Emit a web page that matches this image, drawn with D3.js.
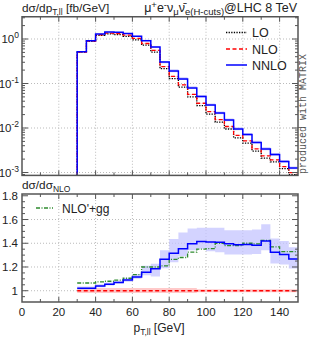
<!DOCTYPE html>
<html><head><meta charset="utf-8">
<script src="https://cdn.jsdelivr.net/npm/d3@7"></script>
<style>body{margin:0;background:#fff;} svg{display:block;font-family:"Liberation Sans",Arial,sans-serif;}</style>
</head><body><svg id="c" width="311" height="340"></svg>
<script>
// ---- data ----
const binEdges = [30,35,40,45,50,55,60,65,70,75,80,85,90,95,100,105,110,115,120,125,130,135,140,145,150];
const nnlo = [0.518,0.916,1.295,1.436,1.414,1.329,1.150,0.916,0.661,0.304,0.191,0.126,0.0793,0.0510,0.0329,0.0217,0.0151,0.0095,0.00715,0.00472,0.00337,0.00254,0.00177,0.00126];
const nlo  = [0.508,0.898,1.245,1.361,1.321,1.219,1.031,0.793,0.558,0.240,0.145,0.0931,0.0568,0.0360,0.0233,0.0154,0.0108,0.00685,0.00514,0.00341,0.00237,0.00192,0.00136,0.000994];
const lo   = [0.508,0.889,1.208,1.307,1.255,1.146,0.959,0.730,0.508,0.216,0.129,0.0829,0.0500,0.0317,0.0205,0.01355,0.0095,0.00603,0.00457,0.00303,0.00211,0.00173,0.00122,0.000895];
const ratioNNLO   = [1.02,1.02,1.04,1.055,1.07,1.09,1.115,1.155,1.185,1.265,1.315,1.353,1.395,1.415,1.41,1.408,1.395,1.387,1.39,1.383,1.42,1.325,1.306,1.267];
const ratioNNLOlo = [1.01,1.01,1.03,1.045,1.06,1.075,1.10,1.13,1.12,1.19,1.24,1.29,1.34,1.353,1.333,1.325,1.306,1.306,1.306,1.31,1.34,1.23,1.22,1.187];
const ratioNNLOhi = [1.035,1.035,1.055,1.07,1.085,1.11,1.14,1.21,1.228,1.34,1.436,1.49,1.525,1.53,1.53,1.53,1.51,1.51,1.51,1.515,1.56,1.44,1.418,1.367];
const ratioNLOlo  = [0.98,0.98,0.98,0.98,0.98,0.98,0.98,0.98,0.98,0.98,0.98,0.98,0.98,0.988,0.988,0.988,0.988,0.988,0.988,0.988,0.988,0.988,0.988,0.988];
const ratioNLOhi  = [1.022,1.022,1.022,1.022,1.022,1.022,1.022,1.022,1.022,1.022,1.022,1.022,1.022,1.013,1.013,1.013,1.013,1.013,1.013,1.013,1.013,1.013,1.013,1.013];
const ratioGG = [1.065,1.065,1.075,1.08,1.09,1.105,1.135,1.2,1.2,1.21,1.265,1.28,1.325,1.35,1.355,1.40,1.38,1.38,1.40,1.395,1.425,1.37,1.33,1.33];
const xTickLabels = [0,20,40,60,80,100,120,140];
const upperTickExps = [0,-1,-2,-3];
const lowerTickLabels = [1,1.2,1.4,1.6,1.8];

// ---- layout ----
const L = 22, R = 298;
const uT = 16.75, uB = 175.4, lT = 194, lB = 302;
const svg = d3.select("#c");
const x = d3.scaleLinear([0,150],[L,R]);
const yU = d3.scaleLog([Math.pow(10,-3.065), Math.pow(10,0.5)],[uB,uT]);
const yL = d3.scaleLinear([0.905,1.815],[lB,lT]);

const defs = svg.append("defs");
defs.append("clipPath").attr("id","cu").append("rect").attr("x",L).attr("y",uT).attr("width",R-L).attr("height",uB-uT);
defs.append("clipPath").attr("id","cl").append("rect").attr("x",L).attr("y",lT).attr("width",R-L).attr("height",lB-lT);

const frameCol = "#555";
const gridCol = "#bbb";

function pts(vals){ return binEdges.map((e,i)=>[e, vals[Math.min(i, vals.length-1)]]); }
function stepLine(ys){ return d3.line().x(d=>x(d[0])).y(d=>ys(d[1])).curve(d3.curveStepAfter); }
function stepArea(ys, lowV, hiV){
  const d = binEdges.map((e,i)=>({x:e, lo:lowV[Math.min(i,lowV.length-1)], hi:hiV[Math.min(i,hiV.length-1)]}));
  return {data:d, gen:d3.area().x(p=>x(p.x)).y0(p=>ys(p.lo)).y1(p=>ys(p.hi)).curve(d3.curveStepAfter)};
}

// ---- grids ----
function grid(g, ys, yvals, top, bot){
  xTickLabels.filter(v=>v>0).forEach(v=>{
    g.append("line").attr("x1",x(v)).attr("x2",x(v)).attr("y1",top).attr("y2",bot)
      .attr("stroke",gridCol).attr("stroke-width",1).attr("stroke-dasharray","1,2");
  });
  yvals.forEach(v=>{
    g.append("line").attr("x1",L).attr("x2",R).attr("y1",ys(v)).attr("y2",ys(v))
      .attr("stroke",gridCol).attr("stroke-width",1).attr("stroke-dasharray","1,2");
  });
}
grid(svg.append("g"), yU, upperTickExps.map(e=>Math.pow(10,e)), uT, uB);
grid(svg.append("g"), yL, [1,1.2,1.4,1.6], lT, lB);

// ---- upper panel ----
const gu = svg.append("g").attr("clip-path","url(#cu)");
const nloBandU = stepArea(yU, nlo.map((v,i)=>v*ratioNLOlo[i]), nlo.map((v,i)=>v*ratioNLOhi[i]));
gu.append("path").datum(nloBandU.data).attr("d",nloBandU.gen).attr("fill","#ffbbbb").attr("opacity",0.8);
const nnloBandU = stepArea(yU, nnlo.map((v,i)=>v*ratioNNLOlo[i]/ratioNNLO[i]), nnlo.map((v,i)=>v*ratioNNLOhi[i]/ratioNNLO[i]));
gu.append("path").datum(nnloBandU.data).attr("d",nnloBandU.gen).attr("fill","#c4c4ff").attr("opacity",0.85);
const yMinU = yU.domain()[0];
gu.append("path").datum([[30,yMinU]].concat(pts(lo))).attr("d",stepLine(yU)).attr("fill","none")
  .attr("stroke","#000").attr("stroke-width",1.3).attr("stroke-dasharray","1.3,1.3");
gu.append("path").datum([[30,yMinU]].concat(pts(nlo))).attr("d",stepLine(yU)).attr("fill","none")
  .attr("stroke","#ff0000").attr("stroke-width",1.3).attr("stroke-dasharray","4,2.5");
gu.append("path").datum([[30,yMinU]].concat(pts(nnlo))).attr("d",stepLine(yU)).attr("fill","none")
  .attr("stroke","#0000ff").attr("stroke-width",1.5);

// ---- lower panel ----
const gl = svg.append("g").attr("clip-path","url(#cl)");
const nloBandL = stepArea(yL, ratioNLOlo, ratioNLOhi);
gl.append("path").datum(nloBandL.data).attr("d",nloBandL.gen).attr("fill","#ffbbbb").attr("opacity",0.8);
const nnloBandL = stepArea(yL, ratioNNLOlo, ratioNNLOhi);
gl.append("path").datum(nnloBandL.data).attr("d",nnloBandL.gen).attr("fill","#c4c4ff").attr("opacity",0.75);
gl.append("path").datum(pts(binEdges.slice(0,-1).map(()=>1))).attr("d",stepLine(yL)).attr("fill","none")
  .attr("stroke","#ff0000").attr("stroke-width",1.3).attr("stroke-dasharray","4,2.5");
gl.append("path").datum(pts(ratioGG)).attr("d",stepLine(yL)).attr("fill","none")
  .attr("stroke","#2e8b2e").attr("stroke-width",1.3).attr("stroke-dasharray","4,1.5,1,1.5");
gl.append("path").datum(pts(ratioNNLO)).attr("d",stepLine(yL)).attr("fill","none")
  .attr("stroke","#0000ff").attr("stroke-width",1.5);

// ---- frames & ticks ----
function frame(top, bot){
  svg.append("rect").attr("x",L).attr("y",top).attr("width",R-L).attr("height",bot-top)
    .attr("fill","none").attr("stroke",frameCol).attr("stroke-width",1.5);
}
frame(uT,uB); frame(lT,lB);
const tg = svg.append("g").attr("stroke",frameCol).attr("stroke-width",1);
function xTicksPanel(top, bot){
  d3.range(10,150,10).forEach(v=>{
    const len = (v%20===0)?5:3;
    tg.append("line").attr("x1",x(v)).attr("x2",x(v)).attr("y1",bot).attr("y2",bot-len);
    tg.append("line").attr("x1",x(v)).attr("x2",x(v)).attr("y1",top).attr("y2",top+len);
  });
}
xTicksPanel(uT,uB); xTicksPanel(lT,lB);
function yTick(ys, v, len){
  const yy = ys(v);
  tg.append("line").attr("x1",L).attr("x2",L+len).attr("y1",yy).attr("y2",yy);
  tg.append("line").attr("x1",R).attr("x2",R-len).attr("y1",yy).attr("y2",yy);
}
upperTickExps.forEach(e=>yTick(yU, Math.pow(10,e), 6));
[-4,-3,-2,-1,0].forEach(e=>{ for(let k=2;k<=9;k++){ const v=k*Math.pow(10,e); if(v>yU.domain()[0] && v<yU.domain()[1]) yTick(yU,v,3);} });
lowerTickLabels.forEach(v=>yTick(yL,v,6));
d3.range(0.95,1.81,0.05).forEach(v=>{ if(Math.abs(v*5-Math.round(v*5))>0.01) yTick(yL,v,3); });

// ---- labels ----
const fs = 11.5;
xTickLabels.forEach(v=>{
  svg.append("text").attr("x",x(v)).attr("y",315.5).attr("text-anchor","middle").attr("font-size",fs).attr("fill","#222").text(v);
});
upperTickExps.forEach(e=>{
  const t = svg.append("text").attr("x",19).attr("y",yU(Math.pow(10,e))+4).attr("text-anchor","end").attr("font-size",fs).attr("fill","#222");
  t.append("tspan").text("10");
  t.append("tspan").attr("font-size",8.5).attr("dy",-5).text(String(e));
});
lowerTickLabels.forEach(v=>{
  svg.append("text").attr("x",18).attr("y",yL(v)+4).attr("text-anchor","end").attr("font-size",fs).attr("fill","#222").text(v===1?"1":v.toFixed(1));
});
// x title
{
  const t = svg.append("text").attr("x",159).attr("y",332).attr("text-anchor","middle").attr("font-size",12).attr("fill","#222");
  t.append("tspan").text("p");
  t.append("tspan").attr("font-size",8.5).attr("dy",3).text("T,ll");
  t.append("tspan").attr("dy",-3).text(" [GeV]");
}
// upper y title
{
  const t = svg.append("text").attr("x",22).attr("y",12).attr("font-size",11.8).attr("fill","#222");
  t.append("tspan").text("dσ/dp");
  t.append("tspan").attr("font-size",8.5).attr("dy",2.5).text("T,ll");
  t.append("tspan").attr("dy",-2.5).text(" [fb/GeV]");
}
// process title
{
  const t = svg.append("text").attr("x",297).attr("y",12).attr("text-anchor","end").attr("font-size",12.5).attr("fill","#222");
  t.append("tspan").text("μ");
  t.append("tspan").attr("font-size",9.5).attr("dy",-4).text("+");
  t.append("tspan").attr("dy",4).text("e");
  t.append("tspan").attr("font-size",9.5).attr("dy",-4).text("-");
  t.append("tspan").attr("dy",4).text("ν");
  t.append("tspan").attr("font-size",9.5).attr("dy",2.5).text("μ");
  t.append("tspan").attr("dy",-2.5).text("ν\u0304");
  t.append("tspan").attr("font-size",9.5).attr("dy",2.5).text("e(H-cuts)");
  t.append("tspan").attr("dy",-2.5).text("@LHC 8 TeV");
}
// lower title
{
  const t = svg.append("text").attr("x",22).attr("y",189).attr("font-size",11.8).attr("fill","#222");
  t.append("tspan").text("dσ/dσ");
  t.append("tspan").attr("font-size",8.5).attr("dy",2.5).text("NLO");
}
// legend upper
const legend = [
  {label:"LO", color:"#000", dash:"1.3,1.3", y:32.5},
  {label:"NLO", color:"#ff0000", dash:"4,2.5", y:49},
  {label:"NNLO", color:"#0000ff", dash:null, y:65}
];
legend.forEach(d=>{
  const ln = svg.append("line").attr("x1",226).attr("x2",247).attr("y1",d.y).attr("y2",d.y)
    .attr("stroke",d.color).attr("stroke-width",d.dash?1.3:1.5);
  if(d.dash) ln.attr("stroke-dasharray",d.dash);
  svg.append("text").attr("x",252).attr("y",d.y+4.5).attr("font-size",12.5).attr("fill","#222").text(d.label);
});
// legend lower
svg.append("line").attr("x1",36).attr("x2",53).attr("y1",208).attr("y2",208)
  .attr("stroke","#2e8b2e").attr("stroke-width",1.3).attr("stroke-dasharray","4,1.5,1,1.5");
svg.append("text").attr("x",62).attr("y",212.5).attr("font-size",12).attr("fill","#222").text("NLO'+gg");
// watermark
svg.append("text").attr("transform","translate(306,114) rotate(-90)").attr("text-anchor","middle")
  .attr("font-family","'Liberation Mono','DejaVu Sans Mono',monospace").attr("font-size",10).attr("fill","#555")
  .text("produced with MATRIX");
</script>
</body></html>
